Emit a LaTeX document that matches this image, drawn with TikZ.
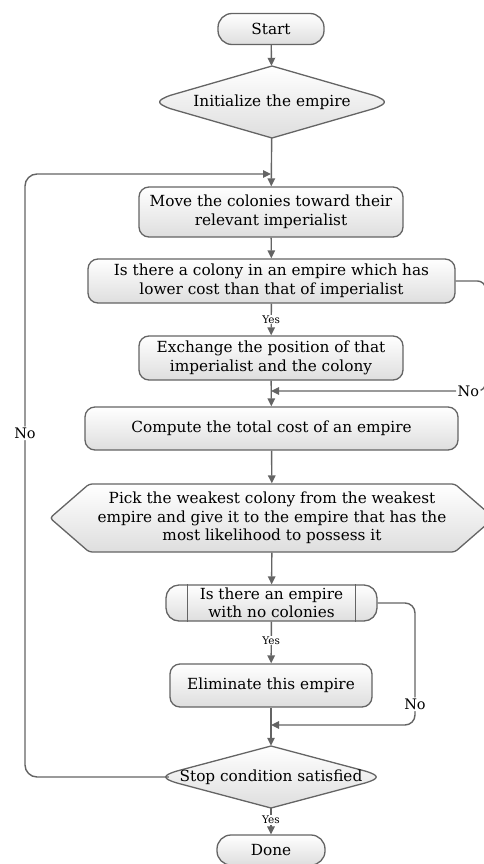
\documentclass[tikz,border=0pt]{standalone}
\usepackage{fontspec}
\setmainfont{DejaVu Serif}
\usetikzlibrary{shapes.geometric,shapes.symbols,arrows.meta}
\definecolor{linec}{RGB}{100,100,100}
\definecolor{fillb}{RGB}{222,222,222}
\newcommand{\mainfs}{\fontsize{15.3}{18.5}\selectfont}
\newcommand{\yesfs}{\fontsize{10.5}{12}\selectfont}
\newcommand{\nofs}{\fontsize{14.5}{16}\selectfont}
\begin{document}
\begin{tikzpicture}[x=1pt,y=-1pt,
  shp/.style={draw=linec, line width=1.3pt, top color=white, bottom color=fillb,
    align=center, inner sep=1pt, font=\mainfs},
  box/.style={shp, rectangle, rounded corners=10pt},
  pill/.style={shp, rectangle, rounded corners=14pt},
  diapath/.style={draw=linec, line width=1.3pt, top color=white, bottom color=fillb, line join=round},
  txt/.style={rectangle, align=center, inner sep=1pt, font=\mainfs},
  arr/.style={draw=linec, line width=1.4pt, -{Triangle[length=8pt,width=7.5pt]}},
  yes/.style={fill=white, inner sep=1pt, font=\yesfs},
  nolab/.style={fill=white, inner sep=1.5pt, font=\nofs}
]
\useasboundingbox (0,0) rectangle (484,864);

\node[pill, minimum width=106pt, minimum height=31pt] (start) at (271,29) {Start};

% Initialize shape: diamond with rounded side corners
\path[diapath] (272,66) -- (170.5,95.3) .. controls (156,100.5) and (156,103.5) .. (170.5,108.7)
  -- (272,138) -- (373.5,108.7) .. controls (388,103.5) and (388,100.5) .. (373.5,95.3) -- cycle;
\node[txt, minimum width=218pt, minimum height=72pt] (init) at (272,102) {Initialize the empire};

\node[box, minimum width=264pt, minimum height=50pt] (move) at (271,212) {Move the colonies toward their\\relevant imperialist};
\node[box, minimum width=367pt, minimum height=44pt] (colony) at (271.5,281) {Is there a colony in an empire which has\\lower cost than that of imperialist};
\node[box, minimum width=264pt, minimum height=44pt] (exch) at (271,358) {Exchange the position of that\\imperialist and the colony};
\node[box, minimum width=373pt, minimum height=43pt] (comp) at (271.5,428.5) {Compute the total cost of an empire};
\node[shp, signal, signal to=west and east, signal pointer angle=82, rounded corners=3pt,
  minimum width=444pt, minimum height=68pt] (pick) at (272,518)
  {Pick the weakest colony from the weakest\\empire and give it to the empire that has the\\most likelihood to possess it};
\node[shp, rectangle, rounded corners=13pt, minimum width=211pt, minimum height=36pt] (emp) at (271.5,603) {Is there an empire\\with no colonies};
\draw[linec, line width=1.3pt] ([xshift=22pt]emp.north west) -- ([xshift=22pt]emp.south west)
  ([xshift=-22pt]emp.north east) -- ([xshift=-22pt]emp.south east);
\node[box, minimum width=202pt, minimum height=43pt] (elim) at (271,685.5) {Eliminate this empire};

% Stop shape
\path[diapath] (271,746) -- (177,771) .. controls (162,775.5) and (162,778.5) .. (177,783)
  -- (271,808) -- (365,783) .. controls (380,778.5) and (380,775.5) .. (365,771) -- cycle;
\node[txt, minimum width=204pt, minimum height=62pt] (stop) at (271,777) {Stop condition satisfied};

\node[pill, minimum width=108pt, minimum height=30pt] (done) at (271,850) {Done};

\coordinate (m0) at (271,174);
\coordinate (m1) at (271,391);
\coordinate (m2) at (271,725);

\draw[arr] (start) -- (init);
\draw[arr] (init) -- (move);
\draw[arr] (move) -- (colony);
\draw[arr] (colony) -- node[yes, pos=0.5]{Yes} (exch);
\draw[arr] (exch) -- (comp);
\draw[arr, rounded corners=8pt] (colony.east) -- (485.5,281) -- (485.5,391) -- node[nolab, pos=0.08]{No} (m1);
\draw[arr] (comp) -- (pick);
\draw[arr] (pick) -- (emp);
\draw[arr] (emp) -- node[yes, pos=0.45]{Yes} (elim);
\draw[arr] (elim) -- (stop);
\draw[arr, rounded corners=10pt] (emp.east) -- (415,603) -- node[nolab, pos=0.83]{No} (415,725) -- (m2);
\draw[arr, rounded corners=12pt] (stop.west) -- (25,777) -- node[nolab, pos=0.57]{No} (25,174) -- (m0);
\draw[arr] (stop) -- node[yes, pos=0.45]{Yes} (done);
\end{tikzpicture}
\end{document}
